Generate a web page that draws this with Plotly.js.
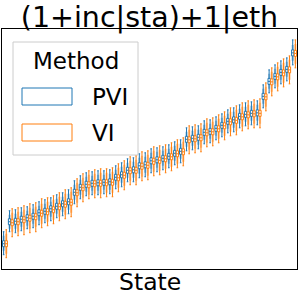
<!DOCTYPE html>
<html>
<head>
<meta charset="utf-8">
<script src="https://cdn.plot.ly/plotly-3.0.1.min.js"></script>
<style>html,body{margin:0;padding:0;background:#fff;}#chart{width:299px;height:293px;}</style>
</head>
<body>
<div id="chart"></div>
<script>
// States (sorted by estimated effect; tick labels are hidden in the reference)
const states = ['WY','VT','ND','SD','MT','AK','DE','RI','NH','ME','ID','NE','WV','NM','NV','UT','KS','AR','MS','IA','CT','OK','OR','KY','LA','AL','SC','MN','CO','WI','MD','MO','TN','IN','MA','AZ','WA','VA','NJ','MI','NC','GA','OH','IL','PA','NY','FL','TX','HI','CA'];

// PVI: median, inner box, mid (shaded) interval, whisker interval
const pviMed     = [25,47,47.5,49.5,51,52.5,56,57.5,60,62.5,65,67,76.5,81.5,84.5,85.5,86,86.5,87,91.5,94,98.5,99,103,104,108,109,110.5,112.5,115.5,117.5,129.5,130.5,131.5,136.5,137.5,140.5,143.5,147.5,149,152.5,154.5,155.5,156,172.5,187.5,192.5,196.5,199.5,216];
const pviBoxLo   = [22,44,44.5,46.5,48,49.5,53,54.5,57,59.5,62,64,73.5,78.5,81.5,82.5,83,83.5,84,88.5,91,95.5,96,100,101,105,106,107.5,109.5,112.5,114.5,126.5,127.5,128.5,133.5,134.5,137.5,140.5,144.5,146,149.5,151.5,152.5,153,169.5,184.5,189.5,193.5,196.5,213];
const pviBoxHi   = [28,50,50.5,52.5,54,55.5,59,60.5,63,65.5,68,70,79.5,84.5,87.5,88.5,89,89.5,90,94.5,97,101.5,102,106,107,111,112,113.5,115.5,118.5,120.5,132.5,133.5,134.5,139.5,140.5,143.5,146.5,150.5,152,155.5,157.5,158.5,159,175.5,190.5,195.5,199.5,202.5,219];
const pviMidLo   = [18,40,40,42,43,45,48,50,52,55,57,59,69,74,77,78,78,79,79,84,86,91,91,95,96,100,101,103,105,108,110,122,123,124,129,130,133,136,140,141,145,147,148,148,165,180,185,189,192,208];
const pviMidHi   = [33,54,55,57,58,60,63,65,67,70,72,75,84,89,92,93,94,94,95,99,102,106,107,111,112,116,117,118,120,123,125,137,138,139,144,145,148,151,155,157,160,162,163,164,180,195,200,204,207,224];
const pviWhiskLo = [14,37,36,38,40,41,44,46,48,51,53,55,65,70,73,74,74,75,75,80,82,87,87,91,92,96,97,99,101,104,106,118,119,120,125,126,129,132,136,137,141,143,144,144,161,176,181,185,188,204];
const pviWhiskHi = [37,58,59,61,62,64,67,69,71,74,76,79,88,93,96,97,98,98,99,103,106,110,111,115,116,120,121,122,124,127,129,141,142,143,148,149,152,155,159,161,164,166,167,168,184,199,204,208,211,229];

// VI: median, inner box, mid (shaded) interval, whisker interval
const viMed      = [25,46,47,49,50.5,52,55.5,57,59,62,64.5,66.5,76,81,84,85,85.5,86,86.5,91,93.5,98,98.5,102.5,103.5,107.5,108.5,110,112,115,117,129,130,131,136,137,140,143,147,148.5,152,154,155,155.5,172,187,192,196,199,215.5];
const viBoxLo    = [22,43,44,46,47.5,49,52.5,54,56,59,61.5,63.5,73,78,81,82,82.5,83,83.5,88,90.5,95,95.5,99.5,100.5,104.5,105.5,107,109,112,114,126,127,128,133,134,137,140,144,145.5,149,151,152,152.5,169,184,189,193,196,212.5];
const viBoxHi    = [28,49,50,52,53.5,55,58.5,60,62,65,67.5,69.5,79,84,87,88,88.5,89,89.5,94,96.5,101,101.5,105.5,106.5,110.5,111.5,113,115,118,120,132,133,134,139,140,143,146,150,151.5,155,157,158,158.5,175,190,195,199,202,218.5];
const viMidLo    = [15,37,37,39,40,42,45,47,49,52,54,56,66,71,74,75,75,76,76,81,83,88,88,92,93,97,98,100,102,105,107,119,120,121,126,127,130,133,137,138,142,144,145,145,162,177,182,186,189,205];
const viMidHi    = [35,56,57,59,61,62,65,67,69,72,75,77,86,91,94,95,96,96,97,101,104,108,109,113,114,118,119,120,122,125,127,139,140,141,146,147,150,153,157,159,162,164,165,166,182,197,202,206,209,225];
const viWhiskLo  = [11,32,33,34,36,37,41,43,45,48,50,52,62,67,70,71,71,72,72,77,79,84,84,88,89,93,94,96,98,101,103,115,116,117,122,123,126,129,133,134,138,140,141,141,158,173,178,182,185,201];
const viWhiskHi  = [39,60,61,63,65,66,70,71,73,76,79,81,90,95,98,99,100,100,101,105,108,112,113,117,118,122,123,124,126,129,131,143,144,145,150,151,154,157,161,163,166,168,169,170,186,201,206,210,213,229];

const methods = ['PVI','VI'];
const colors = {PVI:'#1f77b4', VI:'#ff7f0e'};
const lightColors = {PVI:'rgba(31,119,180,0.40)', VI:'rgba(255,127,14,0.40)'};

const FONT = 'DejaVu Sans';

function lightTrace(name, med, lo, hi){
  return {type:'box', name:name, x:states, median:med, q1:lo, q3:hi,
    lowerfence:lo, upperfence:hi, offsetgroup:name, alignmentgroup:'a',
    fillcolor:lightColors[name], line:{color:lightColors[name], width:0},
    boxpoints:false, showlegend:false, hoverinfo:'skip'};
}
function mainTrace(name, med, bl, bh, wl, wh){
  return {type:'box', name:name, x:states, median:med, q1:bl, q3:bh,
    lowerfence:wl, upperfence:wh, offsetgroup:name, alignmentgroup:'a',
    fillcolor:'#ffffff', line:{color:colors[name], width:1}, whiskerwidth:0.7,
    boxpoints:false, showlegend:false};
}

const data = [
  lightTrace('PVI', pviMed, pviMidLo, pviMidHi),
  lightTrace('VI', viMed, viMidLo, viMidHi),
  mainTrace('PVI', pviMed, pviBoxLo, pviBoxHi, pviWhiskLo, pviWhiskHi),
  mainTrace('VI', viMed, viBoxLo, viBoxHi, viWhiskLo, viWhiskHi)
];

// plot area in pixels: x 2..297, y 29..269
const L=2, R=297, T=29, B=269;
const px = v => (v - L)/(R - L);
const py = v => (B - v)/(B - T);

const shapes = [
  {type:'rect', xref:'paper', yref:'paper', x0:px(13), x1:px(138), y0:py(155), y1:py(42),
   line:{color:'#cccccc', width:1}, fillcolor:'rgba(255,255,255,0.8)', layer:'above'}
];
const annotations = [
  {xref:'paper', yref:'paper', x:px(75.5), y:py(61), text:'Method', showarrow:false,
   xanchor:'center', yanchor:'middle', font:{family:FONT, size:23, color:'#000'}},
  {xref:'paper', yref:'paper', x:0.5, y:py(281.5), text:'State', showarrow:false,
   xanchor:'center', yanchor:'middle', font:{family:FONT, size:23.5, color:'#000'}}
];
methods.forEach((m, i) => {
  const top = 88 + i*36;
  shapes.push({type:'rect', xref:'paper', yref:'paper', x0:px(22), x1:px(72), y0:py(top+17), y1:py(top),
    line:{color:colors[m], width:1}, fillcolor:'#ffffff', layer:'above'});
  annotations.push({xref:'paper', yref:'paper', x:px(90), y:py(top+9), text:m, showarrow:false,
    xanchor:'left', yanchor:'middle', font:{family:FONT, size:23, color:'#000'}});
});

const layout = {
  width:299, height:293,
  margin:{l:L, r:299-R, t:T, b:293-B, pad:0},
  paper_bgcolor:'#ffffff', plot_bgcolor:'#ffffff',
  font:{family:FONT, color:'#000'},
  title:{text:'(1+inc|sta)+1|eth', font:{family:FONT, size:28.5, color:'#000'},
    x:0.5, xanchor:'center', xref:'container', y:1-27/293, yref:'container', yanchor:'bottom'},
  boxmode:'group', boxgap:0.1, boxgroupgap:0.15,
  xaxis:{type:'category', range:[-0.5, states.length-0.5], showticklabels:false, ticks:'',
    showgrid:false, zeroline:false, showline:true, mirror:true, linecolor:'#000', linewidth:1},
  yaxis:{range:[-0.3, 239.9], showticklabels:false, ticks:'', showgrid:false, zeroline:false,
    showline:true, mirror:true, linecolor:'#000', linewidth:1},
  shapes:shapes, annotations:annotations, showlegend:false
};

Plotly.newPlot('chart', data, layout, {staticPlot:true, displayModeBar:false});
</script>
</body>
</html>
